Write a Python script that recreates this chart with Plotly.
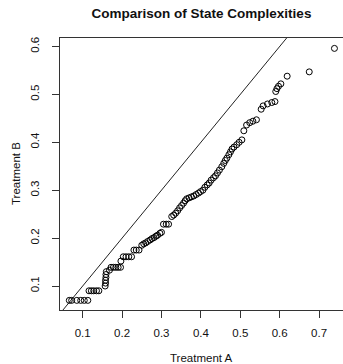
import plotly.graph_objects as go

# Sorted sample quantiles of the two treatments (QQ-style comparison)
treatment_a = [
    0.066, 0.072, 0.085, 0.095, 0.104, 0.113,
    0.116, 0.122, 0.128, 0.135, 0.141,
    0.157, 0.158, 0.158, 0.159, 0.159, 0.160, 0.168,
    0.172, 0.178, 0.184, 0.190, 0.196, 0.197,
    0.203, 0.210, 0.217, 0.224,
    0.230, 0.236, 0.243,
    0.250, 0.255, 0.260, 0.265, 0.271, 0.276, 0.281, 0.286, 0.290, 0.296, 0.300,
    0.305, 0.312, 0.318,
    0.326, 0.331, 0.336, 0.341, 0.346, 0.351, 0.356, 0.360, 0.364, 0.370,
    0.376, 0.382, 0.388, 0.394, 0.399, 0.405, 0.410, 0.416, 0.421, 0.426,
    0.432, 0.437, 0.442, 0.447, 0.453, 0.458, 0.462, 0.466, 0.471, 0.475,
    0.479, 0.484, 0.491, 0.497, 0.504,
    0.509, 0.516, 0.524, 0.532, 0.541,
    0.553, 0.558, 0.569, 0.580, 0.588,
    0.590, 0.593, 0.597, 0.603,
    0.619, 0.675, 0.739,
]
treatment_b = [
    0.070, 0.070, 0.070, 0.070, 0.070, 0.070,
    0.090, 0.090, 0.090, 0.090, 0.090,
    0.100, 0.106, 0.112, 0.118, 0.124, 0.130, 0.133,
    0.139, 0.139, 0.139, 0.139, 0.139, 0.152,
    0.161, 0.161, 0.161, 0.161,
    0.175, 0.175, 0.175,
    0.185, 0.188, 0.190, 0.193, 0.196, 0.199, 0.201, 0.204, 0.206, 0.210, 0.212,
    0.229, 0.229, 0.229,
    0.245, 0.248, 0.252, 0.257, 0.263, 0.268, 0.273, 0.278, 0.282, 0.284,
    0.286, 0.288, 0.291, 0.294, 0.297, 0.300, 0.306, 0.311, 0.315, 0.321,
    0.326, 0.330, 0.336, 0.342, 0.349, 0.356, 0.362, 0.367, 0.374, 0.380,
    0.386, 0.390, 0.395, 0.400, 0.405,
    0.424, 0.436, 0.441, 0.444, 0.447,
    0.469, 0.476, 0.480, 0.483, 0.485,
    0.506, 0.512, 0.517, 0.522,
    0.538, 0.547, 0.596,
]

# Reference line y = intercept + slope * x
line_intercept = 0.0
line_slope = 1.0
line_x = [0.0, 1.0]

x_ticks = [0.1, 0.2, 0.3, 0.4, 0.5, 0.6, 0.7]
y_ticks = [0.1, 0.2, 0.3, 0.4, 0.5, 0.6]

FONT = "Liberation Sans, Arial, sans-serif"
INK = "#111111"

fig = go.Figure()

fig.add_trace(go.Scatter(
    x=line_x,
    y=[line_intercept + line_slope * v for v in line_x],
    mode="lines",
    line=dict(color="#222222", width=1),
    hoverinfo="skip",
    showlegend=False,
))

fig.add_trace(go.Scatter(
    x=treatment_a,
    y=treatment_b,
    mode="markers",
    marker=dict(symbol="circle-open", size=6, color="#000000",
                line=dict(width=1, color="#000000")),
    showlegend=False,
))

axis_common = dict(
    showgrid=False,
    zeroline=False,
    ticks="outside",
    ticklen=7,
    tickwidth=1,
    tickcolor="#333333",
    showline=True,
    linecolor="#333333",
    linewidth=1,
    tickfont=dict(family=FONT, size=11.5, color=INK),
)

fig.update_layout(
    width=343,
    height=364,
    margin=dict(l=60, r=0, t=38, b=54),
    paper_bgcolor="white",
    plot_bgcolor="white",
    font=dict(family=FONT, color=INK),
    title=dict(
        text="<b>Comparison of State Complexities</b>",
        font=dict(family=FONT, size=13.5, color=INK),
        x=0.5, xref="paper", xanchor="center",
        y=1 - 13.5 / 364, yref="container", yanchor="middle",
    ),
    xaxis=dict(
        range=[0.0424, 0.7607],
        tickvals=x_ticks,
        ticktext=[f"{v:.1f}" for v in x_ticks],
        mirror=True,
        ticklabelstandoff=5,
        **axis_common,
    ),
    yaxis=dict(
        range=[0.0499, 0.6177],
        tickvals=y_ticks,
        ticktext=[f"{v:.1f}" for v in y_ticks],
        tickangle=-90,
        mirror=False,
        ticklabelstandoff=8,
        **axis_common,
    ),
    annotations=[
        dict(text="Treatment A", xref="paper", yref="paper",
             x=0.5, y=0, xanchor="center", yanchor="middle",
             yshift=-48, showarrow=False,
             font=dict(family=FONT, size=11.5, color=INK)),
        dict(text="Treatment B", xref="paper", yref="paper",
             x=0, y=0.5, xanchor="center", yanchor="middle",
             xshift=-44, textangle=-90, showarrow=False,
             font=dict(family=FONT, size=11.5, color=INK)),
    ],
)

fig.write_html("out.html")
